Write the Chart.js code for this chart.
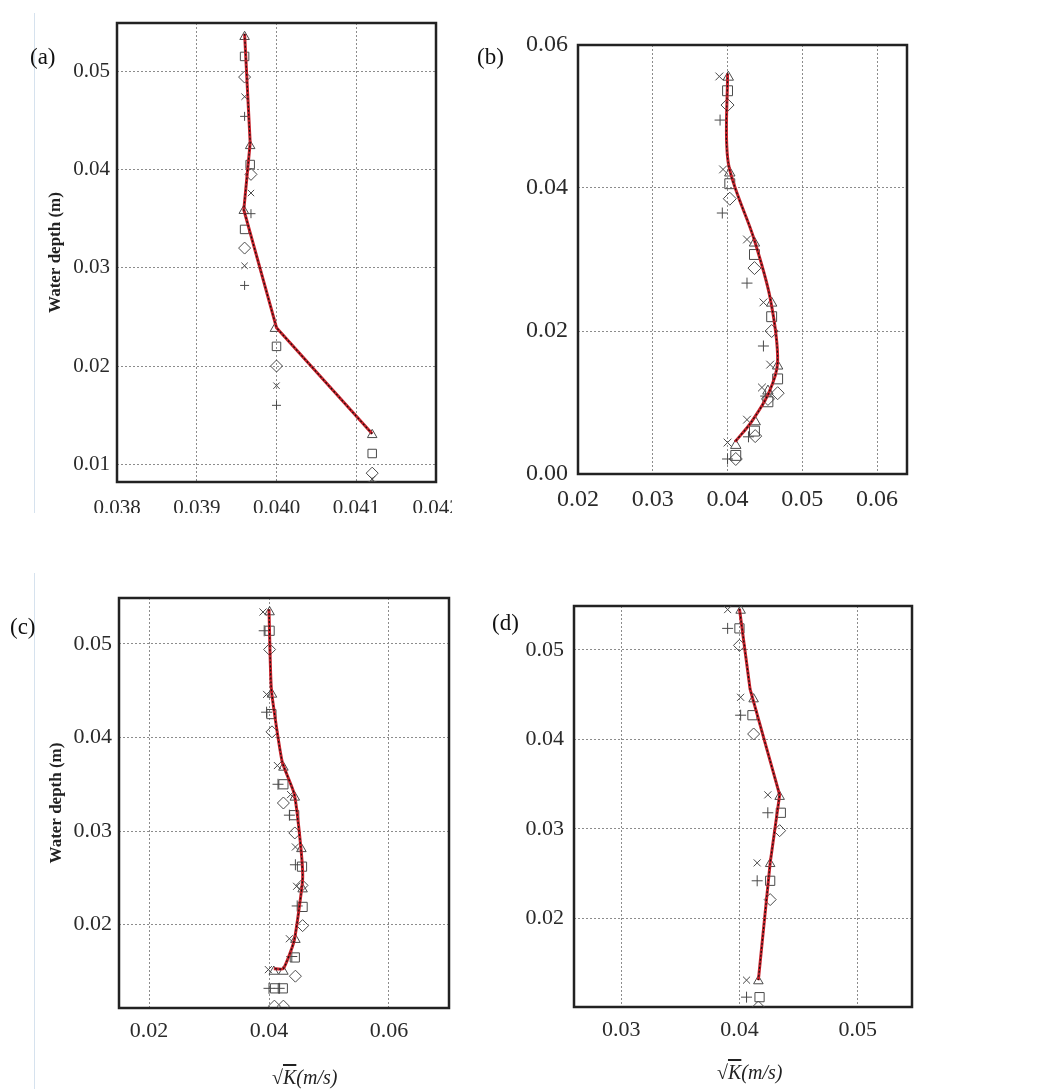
<!DOCTYPE html>
<html>
<head>
<meta charset="utf-8">
<script src="https://cdn.jsdelivr.net/npm/chart.js@4.4.0/dist/chart.umd.min.js"></script>
<style>
  body { margin: 0; width: 1041px; height: 1089px; position: relative; overflow: hidden; background: #fff;
         font-family: "Liberation Serif", "Times New Roman", serif; }
  .panel { position: absolute; overflow: hidden; }
  .panel canvas { position: absolute; left: 0; top: 0; }
  .vline { position: absolute; width: 1px; background: #d6e2ee; }
  .tag { position: absolute; font-size: 23px; line-height: 1; color: #111; }
  .xt { position: absolute; font-size: 20px; line-height: 1; font-style: italic; color: #222; white-space: nowrap; }
  .xt .k { text-decoration: overline; }
</style>
</head>
<body>

<div class="vline" style="left:34px;top:13px;height:500px"></div>
<div class="vline" style="left:34px;top:573px;height:516px"></div>

<div class="panel" style="left:34px;top:13px;width:418px;height:500px"><canvas id="chartA" width="418" height="500"></canvas></div>
<div class="panel" style="left:470px;top:10px;width:460px;height:520px"><canvas id="chartB" width="460" height="520"></canvas></div>
<div class="panel" style="left:35px;top:573px;width:440px;height:516px"><canvas id="chartC" width="440" height="516"></canvas>
  <div class="xt" style="left:237px;top:494px">√<span class="k">K</span>(m/s)</div>
</div>
<div class="panel" style="left:480px;top:573px;width:460px;height:516px"><canvas id="chartD" width="460" height="516"></canvas></div>

<div class="tag" style="left:30px;top:45px">(a)</div>
<div class="tag" style="left:477px;top:45px">(b)</div>
<div class="tag" style="left:10px;top:615px">(c)</div>
<div class="tag" style="left:492px;top:611px">(d)</div>
<div class="xt" style="left:717px;top:1062px">√<span class="k">K</span>(m/s)</div>

<script>
// (a) ------------------------------------------------------------
const aXTicks = [0.038, 0.039, 0.040, 0.041, 0.042];
const aXLabels = ['0.038', '0.039', '0.040', '0.041', '0.042'];
const aYTicks = [0.01, 0.02, 0.03, 0.04, 0.05];
const aYLabels = ['0.01', '0.02', '0.03', '0.04', '0.05'];
const aLineX = [0.03960, 0.03967, 0.03959, 0.04000, 0.04120];
const aLineY = [0.0538, 0.0427, 0.0359, 0.0239, 0.0131];
const aTriX = [0.03960, 0.03967, 0.03959, 0.03998, 0.04120];
const aTriY = [0.0535, 0.0424, 0.0358, 0.0238, 0.0130];
const aSqX = [0.03960, 0.03967, 0.03960, 0.04000, 0.04120];
const aSqY = [0.0515, 0.0405, 0.0339, 0.0220, 0.0111];
const aDiaX = [0.03960, 0.03968, 0.03960, 0.04000, 0.04120];
const aDiaY = [0.0494, 0.0395, 0.0320, 0.0200, 0.0091];
const aCrossX = [0.03960, 0.03968, 0.03960, 0.04000, 0.04120];
const aCrossY = [0.0474, 0.0376, 0.0302, 0.0180, 0.0085];
const aPlusX = [0.03960, 0.03968, 0.03960, 0.04000, 0.04120];
const aPlusY = [0.0454, 0.0355, 0.0282, 0.0160, 0.0082];

// (b) ------------------------------------------------------------
const bXTicks = [0.02, 0.03, 0.04, 0.05, 0.06];
const bXLabels = ['0.02', '0.03', '0.04', '0.05', '0.06'];
const bYTicks = [0.00, 0.02, 0.04, 0.06];
const bYLabels = ['0.00', '0.02', '0.04', '0.06'];
const bLineX = [0.0400, 0.0401, 0.0435, 0.0457, 0.0467, 0.0455, 0.0432, 0.0410];
const bLineY = [0.0560, 0.0435, 0.0330, 0.0246, 0.0157, 0.0113, 0.0073, 0.0045];
const bTriX = [0.0401, 0.0403, 0.0436, 0.0459, 0.0467, 0.0454, 0.0437, 0.0411];
const bTriY = [0.0555, 0.0421, 0.0323, 0.0239, 0.0151, 0.0116, 0.0073, 0.0040];
const bSqX = [0.0400, 0.0403, 0.0436, 0.0459, 0.0467, 0.0454, 0.0436, 0.0411];
const bSqY = [0.0536, 0.0406, 0.0307, 0.0220, 0.0133, 0.0101, 0.0060, 0.0026];
const bDiaX = [0.0400, 0.0403, 0.0436, 0.0459, 0.0467, 0.0454, 0.0437, 0.0411];
const bDiaY = [0.0516, 0.0385, 0.0288, 0.0200, 0.0113, 0.0105, 0.0053, 0.0021];
const bCrossX = [0.0389, 0.0394, 0.0426, 0.0448, 0.0457, 0.0446, 0.0426, 0.0400];
const bCrossY = [0.0556, 0.0426, 0.0328, 0.0240, 0.0153, 0.0121, 0.0076, 0.0044];
const bPlusX = [0.0390, 0.0393, 0.0426, 0.0448, 0.0451, 0.0428, 0.0400];
const bPlusY = [0.0495, 0.0365, 0.0267, 0.0179, 0.0109, 0.0052, 0.0021];

// (c) ------------------------------------------------------------
const cXTicks = [0.02, 0.04, 0.06];
const cXLabels = ['0.02', '0.04', '0.06'];
const cYTicks = [0.02, 0.03, 0.04, 0.05];
const cYLabels = ['0.02', '0.03', '0.04', '0.05'];
const cLineX = [0.0400, 0.0404, 0.0422, 0.0442, 0.0453, 0.0456, 0.0442, 0.0424, 0.0408];
const cLineY = [0.0537, 0.0451, 0.0374, 0.0340, 0.0283, 0.0248, 0.0183, 0.0153, 0.0153];
const cTriX = [0.0401, 0.0405, 0.0424, 0.0443, 0.0454, 0.0456, 0.0444, 0.0408, 0.0424];
const cTriY = [0.0534, 0.0446, 0.0368, 0.0336, 0.0281, 0.0238, 0.0184, 0.0150, 0.0150];
const cSqX = [0.0401, 0.0404, 0.0424, 0.0442, 0.0455, 0.0456, 0.0443, 0.0410, 0.0423];
const cSqY = [0.0514, 0.0425, 0.0350, 0.0317, 0.0262, 0.0219, 0.0165, 0.0132, 0.0132];
const cDiaX = [0.0401, 0.0405, 0.0424, 0.0443, 0.0455, 0.0456, 0.0444, 0.0409, 0.0424];
const cDiaY = [0.0494, 0.0406, 0.0330, 0.0298, 0.0242, 0.0199, 0.0145, 0.0113, 0.0113];
const cCrossX = [0.0390, 0.0396, 0.0414, 0.0436, 0.0444, 0.0446, 0.0434, 0.0399];
const cCrossY = [0.0534, 0.0446, 0.0370, 0.0339, 0.0283, 0.0241, 0.0185, 0.0152];
const cPlusX = [0.0392, 0.0396, 0.0415, 0.0434, 0.0444, 0.0447, 0.0438, 0.0400, 0.0417];
const cPlusY = [0.0514, 0.0427, 0.0350, 0.0317, 0.0264, 0.0220, 0.0166, 0.0132, 0.0132];

// (d) ------------------------------------------------------------
const dXTicks = [0.03, 0.04, 0.05];
const dXLabels = ['0.03', '0.04', '0.05'];
const dYTicks = [0.02, 0.03, 0.04, 0.05];
const dYLabels = ['0.02', '0.03', '0.04', '0.05'];
const dLineX = [0.0400, 0.0409, 0.0434, 0.0426, 0.0416];
const dLineY = [0.0546, 0.0456, 0.0338, 0.0262, 0.0131];
const dTriX = [0.0401, 0.0412, 0.0434, 0.0426, 0.0416];
const dTriY = [0.0544, 0.0445, 0.0336, 0.0261, 0.0130];
const dSqX = [0.0400, 0.0411, 0.0435, 0.0426, 0.0417];
const dSqY = [0.0524, 0.0427, 0.0318, 0.0242, 0.0112];
const dDiaX = [0.0400, 0.0412, 0.0434, 0.0426, 0.0416];
const dDiaY = [0.0505, 0.0406, 0.0298, 0.0221, 0.0101];
const dCrossX = [0.0390, 0.0401, 0.0424, 0.0415, 0.0406];
const dCrossY = [0.0545, 0.0447, 0.0338, 0.0262, 0.0131];
const dPlusX = [0.0390, 0.0401, 0.0424, 0.0415, 0.0406];
const dPlusY = [0.0524, 0.0427, 0.0318, 0.0242, 0.0112];

const SERIF = '"Liberation Serif", "Times New Roman", serif';
const MARK = '#4a4a4a';

const pts = (xs, ys) => xs.map((x, i) => ({ x: x, y: ys[i] }));

// black frame round the plot area
const frame = {
  id: 'frame',
  beforeDatasetsDraw(chart) {
    const a = chart.chartArea, ctx = chart.ctx;
    ctx.save();
    ctx.strokeStyle = '#222';
    ctx.lineWidth = 2.5;
    ctx.strokeRect(a.left, a.top, a.right - a.left, a.bottom - a.top);
    ctx.restore();
  }
};

function marks(xs, ys, style, r) {
  return { data: pts(xs, ys), showLine: false, pointStyle: style, pointRadius: r,
           borderColor: MARK, backgroundColor: 'rgba(0,0,0,0)', pointBorderWidth: 1 };
}

function makeChart(id, p) {
  const ds = [
    // dotted black on top of the red line
    { data: pts(p.lx, p.ly), showLine: true, pointRadius: 0, borderColor: '#111',
      borderWidth: 1.2, borderDash: [2, 2], tension: p.tension },
    { data: pts(p.lx, p.ly), showLine: true, pointRadius: 0, borderColor: '#c8232c',
      borderWidth: 3, tension: p.tension },
    marks(p.tri[0], p.tri[1], 'triangle', p.r[0]),
    marks(p.sq[0], p.sq[1], 'rect', p.r[1]),
    marks(p.dia[0], p.dia[1], 'rectRot', p.r[2]),
    marks(p.cross[0], p.cross[1], 'crossRot', p.r[3]),
    marks(p.plus[0], p.plus[1], 'cross', p.r[4])
  ];
  const tickFont = { family: SERIF, size: p.fs };
  new Chart(document.getElementById(id), {
    type: 'scatter',
    data: { datasets: ds },
    options: {
      responsive: false, animation: false, devicePixelRatio: 1,
      layout: { padding: { top: p.padTop, right: p.padRight, left: 0, bottom: 0 } },
      plugins: { legend: { display: false }, tooltip: { enabled: false } },
      scales: {
        x: {
          type: 'linear', min: p.xMin, max: p.xMax,
          afterBuildTicks: s => { s.ticks = p.xTicks.map(v => ({ value: v })); },
          afterFit: s => { s.height = p.xH; s.paddingLeft = 0; s.paddingRight = 0; },
          grid: { color: '#8c8c8c', lineWidth: 1, drawTicks: false },
          border: { display: false, dash: [2, 2] },
          ticks: { padding: p.xPad, font: tickFont, color: '#2a2a2a', maxRotation: 0,
                   callback: (v, i) => p.xLabels[i] }
        },
        y: {
          type: 'linear', min: p.yMin, max: p.yMax,
          afterBuildTicks: s => { s.ticks = p.yTicks.map(v => ({ value: v })); },
          afterFit: s => { s.width = p.yW; s.paddingTop = 0; s.paddingBottom = 0; },
          grid: { color: '#8c8c8c', lineWidth: 1, drawTicks: false },
          border: { display: false, dash: [2, 2] },
          ticks: { padding: p.yPad, font: tickFont, color: '#2a2a2a',
                   callback: (v, i) => p.yLabels[i] },
          title: { display: !!p.yTitle, text: p.yTitle || '', color: '#222',
                   font: { family: SERIF, size: 17, weight: 'bold' },
                   padding: { top: 11, bottom: 0 } }
        }
      }
    },
    plugins: [frame]
  });
}

makeChart('chartA', {
  xMin: 0.038, xMax: 0.042, yMin: 0.0082, yMax: 0.0549,
  xTicks: aXTicks, xLabels: aXLabels, yTicks: aYTicks, yLabels: aYLabels,
  lx: aLineX, ly: aLineY, tension: 0,
  tri: [aTriX, aTriY], sq: [aSqX, aSqY], dia: [aDiaX, aDiaY], cross: [aCrossX, aCrossY], plus: [aPlusX, aPlusY],
  r: [5.5, 6, 6, 4.5, 4.5],
  padTop: 10, padRight: 16, yW: 83, xH: 31, fs: 21, xPad: 14, yPad: 7, yTitle: 'Water depth (m)'
});

makeChart('chartB', {
  xMin: 0.02, xMax: 0.064, yMin: 0, yMax: 0.06,
  xTicks: bXTicks, xLabels: bXLabels, yTicks: bYTicks, yLabels: bYLabels,
  lx: bLineX, ly: bLineY, tension: 0.3,
  tri: [bTriX, bTriY], sq: [bSqX, bSqY], dia: [bDiaX, bDiaY], cross: [bCrossX, bCrossY], plus: [bPlusX, bPlusY],
  r: [6, 7, 6.5, 5.5, 5.5],
  padTop: 35, padRight: 23, yW: 108, xH: 56, fs: 24, xPad: 11, yPad: 10
});

makeChart('chartC', {
  xMin: 0.015, xMax: 0.070, yMin: 0.0111, yMax: 0.0549,
  xTicks: cXTicks, xLabels: cXLabels, yTicks: cYTicks, yLabels: cYLabels,
  lx: cLineX, ly: cLineY, tension: 0.15,
  tri: [cTriX, cTriY], sq: [cSqX, cSqY], dia: [cDiaX, cDiaY], cross: [cCrossX, cCrossY], plus: [cPlusX, cPlusY],
  r: [5.5, 6.5, 6, 5, 5.5],
  padTop: 25, padRight: 26, yW: 84, xH: 81, fs: 22, xPad: 10, yPad: 7, yTitle: 'Water depth (m)'
});

makeChart('chartD', {
  xMin: 0.026, xMax: 0.0546, yMin: 0.0101, yMax: 0.0549,
  xTicks: dXTicks, xLabels: dXLabels, yTicks: dYTicks, yLabels: dYLabels,
  lx: dLineX, ly: dLineY, tension: 0,
  tri: [dTriX, dTriY], sq: [dSqX, dSqY], dia: [dDiaX, dDiaY], cross: [dCrossX, dCrossY], plus: [dPlusX, dPlusY],
  r: [5.5, 6.5, 6, 5, 5.5],
  padTop: 33, padRight: 28, yW: 94, xH: 82, fs: 22, xPad: 10, yPad: 10
});
</script>
</body>
</html>
